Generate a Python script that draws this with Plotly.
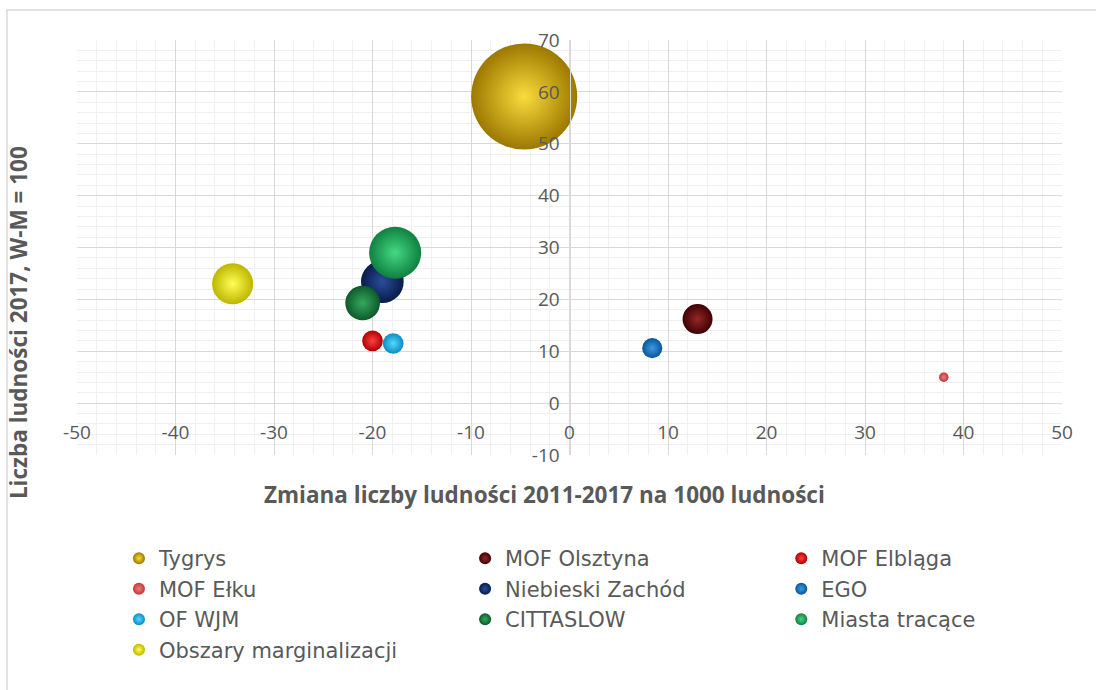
import plotly.graph_objects as go

# Area groups of the Warmia-Masuria region
groups = [
    "Tygrys", "MOF Olsztyna", "MOF Elbląga",
    "MOF Ełku", "Niebieski Zachód", "EGO",
    "OF WJM", "CITTASLOW", "Miasta tracące",
    "Obszary marginalizacji",
]
# Population change 2011-2017 per 1000 inhabitants
pop_change = [-4.6, 13.0, -20.0, 38.0, -19.0, 8.4, -17.9, -21.0, -17.7, -34.2]
# Population 2017, region (W-M) = 100
pop_index = [59.1, 16.2, 12.0, 5.0, 23.4, 10.6, 11.5, 19.3, 29.0, 23.0]
# Relative bubble size (area)
bubble_size = [100, 8.0, 3.8, 0.8, 16.2, 3.6, 3.8, 10.7, 24.1, 15.0]

# Sphere shading: highlight (centre) colour and rim colour
centre_colors = ["#FADC3C", "#95262A", "#FF4040", "#F27A7A", "#2A4C99",
                 "#3A9CE6", "#55D8FF", "#36A85E", "#45D884", "#FFFF55"]
rim_colors = ["#9C7800", "#3F0202", "#B00000", "#BE3838", "#081C4A",
              "#0B5596", "#0A8CC4", "#0C5A2A", "#0F8040", "#BDB600"]

x_ticks = list(range(-50, 51, 10))
y_ticks = list(range(-10, 71, 10))
x_tick_text = [str(v) for v in x_ticks]
y_tick_text = [str(v) for v in y_ticks]

GRAY = "#595959"
FONT = "Open Sans"

max_diameter = 106
sizeref = 2.0 * max(bubble_size) / max_diameter ** 2

fig = go.Figure()
legend_ids = ["legend", "legend2", "legend3"]
for i, name in enumerate(groups):
    fig.add_trace(go.Scatter(
        x=[pop_change[i]], y=[pop_index[i]],
        mode="markers", name=name,
        legend=legend_ids[i % 3],
        legendgroup=name,
        marker=dict(
            size=[bubble_size[i]], sizemode="area", sizeref=sizeref,
            color=rim_colors[i],
            gradient=dict(type="radial", color=centre_colors[i]),
            line=dict(width=0),
            opacity=1,
        ),
        hovertemplate=f"{name}<br>%{{x}}; %{{y}}<extra></extra>",
    ))

axis_common = dict(
    showgrid=True, gridcolor="#D9D9D9", gridwidth=1,
    zeroline=False,
    showline=True, linecolor="#D9D9D9", linewidth=1,
    tickfont=dict(family=FONT, size=19, color=GRAY),
    minor=dict(dtick=2, showgrid=True, gridcolor="#F0F0F0", gridwidth=1),
)

fig.update_xaxes(
    range=[-50, 50], tickvals=x_ticks, ticktext=x_tick_text, anchor="free",
    position=10 / 80, domain=[0, 1], ticklabelstandoff=12,
    **axis_common,
)
fig.update_yaxes(
    range=[-10, 70], tickvals=y_ticks, ticktext=y_tick_text, anchor="free",
    position=0.5, domain=[0, 1], ticklabelstandoff=6,
    **axis_common,
)

legend_style = dict(
    yanchor="top", xanchor="left", y=-0.2,
    font=dict(family="DejaVu Sans", size=21, color=GRAY),
    bgcolor="rgba(0,0,0,0)", itemsizing="constant",
    traceorder="grouped", tracegroupgap=0.2,
    orientation="v",
)

fig.update_layout(
    width=1096, height=690,
    margin=dict(l=77, r=34, t=40, b=235),
    paper_bgcolor="white", plot_bgcolor="white",
    showlegend=True,
    legend=dict(x=0.0426, **legend_style),
    legend2=dict(x=0.394, **legend_style),
    legend3=dict(x=0.715, **legend_style),
    annotations=[
        dict(text="<b>Zmiana liczby ludności 2011-2017 na 1000 ludności</b>",
             xref="paper", yref="paper", x=0.475, y=-0.096,
             xanchor="center", yanchor="middle", showarrow=False,
             font=dict(family=FONT, size=22.5, color=GRAY)),
        dict(text="<b>Liczba ludności 2017, W-M = 100</b>",
             xref="paper", yref="paper", x=-0.06, y=0.32,
             xanchor="center", yanchor="middle", showarrow=False,
             textangle=-90,
             font=dict(family=FONT, size=22.5, color=GRAY)),
    ],
    shapes=[
        dict(type="rect", xref="paper", yref="paper",
             x0=-0.0711, y0=-0.7, x1=1.1, y1=1.0723,
             line=dict(color="#D9D9D9", width=1.5), layer="below"),
    ],
)

fig.write_html("out.html")
